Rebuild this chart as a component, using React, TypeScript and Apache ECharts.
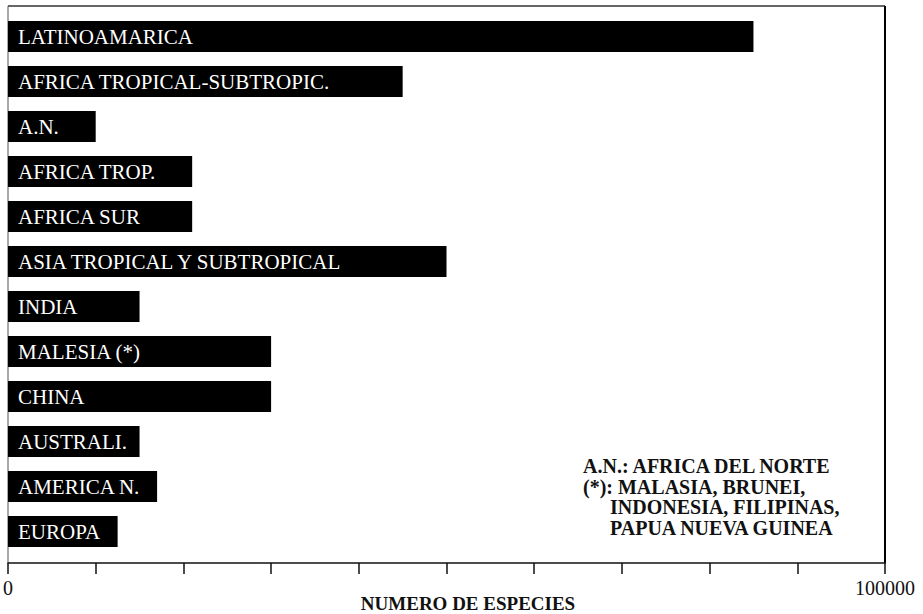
import React, { useEffect, useRef } from "react";
import * as echarts from "echarts";

const categories = [
  "LATINOAMARICA",
  "AFRICA TROPICAL-SUBTROPIC.",
  "A.N.",
  "AFRICA TROP.",
  "AFRICA SUR",
  "ASIA TROPICAL Y SUBTROPICAL",
  "INDIA",
  "MALESIA (*)",
  "CHINA",
  "AUSTRALI.",
  "AMERICA N.",
  "EUROPA",
];
const species = [85000, 45000, 10000, 21000, 21000, 50000, 15000, 30000, 30000, 15000, 17000, 12500];
const tickLabels: Record<number, string> = { 0: "0", 100000: "100000" };
const axisTitle = "NUMERO DE ESPECIES";
const noteLines = [
  "A.N.: AFRICA DEL NORTE",
  "(*): MALASIA, BRUNEI,",
  "INDONESIA, FILIPINAS,",
  "PAPUA NUEVA GUINEA",
];
const noteIndented = [false, false, true, true];

const SERIF = "'Liberation Serif', 'DejaVu Serif', serif";

export default function App() {
  const ref = useRef<HTMLDivElement>(null);
  useEffect(() => {
    if (!ref.current) return;
    const chart = echarts.init(ref.current, null, { renderer: "svg" });
    chart.setOption({
      animation: false,
      backgroundColor: "#ffffff",
      grid: { left: 8, right: 38, top: 14, height: 540, containLabel: false },
      xAxis: {
        type: "value",
        min: 0,
        max: 100000,
        interval: 10000,
        offset: 9,
        axisLine: { show: true, lineStyle: { color: "#111", width: 1.5 } },
        axisTick: { show: true, length: 11, lineStyle: { color: "#111", width: 1.5 } },
        splitLine: { show: false },
        axisLabel: {
          color: "#111",
          fontFamily: SERIF,
          fontSize: 20,
          margin: 15,
          formatter: (v: number) => tickLabels[v] ?? "",
        },
      },
      yAxis: {
        type: "category",
        data: categories,
        inverse: true,
        axisLine: { show: false },
        axisTick: { show: false },
        axisLabel: { show: false },
      },
      series: [
        {
          type: "bar",
          data: species,
          barWidth: 31,
          itemStyle: { color: "#000" },
          label: {
            show: true,
            position: "insideLeft",
            distance: 10,
            formatter: "{b}",
            color: "#fff",
            fontFamily: SERIF,
            fontSize: 21,
          },
        },
      ],
      graphic: [
        { type: "line", shape: { x1: 8, y1: 6, x2: 885, y2: 6 }, style: { stroke: "#333", lineWidth: 1.5 } },
        { type: "line", shape: { x1: 8, y1: 6, x2: 8, y2: 563 }, style: { stroke: "#555", lineWidth: 1 } },
        { type: "line", shape: { x1: 885, y1: 6, x2: 885, y2: 563 }, style: { stroke: "#000", lineWidth: 2 } },
        {
          type: "text",
          x: 468,
          y: 603,
          style: {
            text: axisTitle,
            fill: "#111",
            font: `bold 19px ${SERIF}`,
            textAlign: "center",
            textVerticalAlign: "middle",
          },
        },
        ...noteLines.map((t, i) => ({
          type: "text",
          x: noteIndented[i] ? 610 : 583,
          y: 466 + i * 20.7,
          style: {
            text: t,
            fill: "#111",
            font: `bold 20px ${SERIF}`,
            textAlign: "left",
            textVerticalAlign: "middle",
          },
        })),
      ],
    });
    return () => chart.dispose();
  }, []);
  return <div ref={ref} style={{ width: 923, height: 614, position: "absolute", left: 0, top: 0 }} />;
}
